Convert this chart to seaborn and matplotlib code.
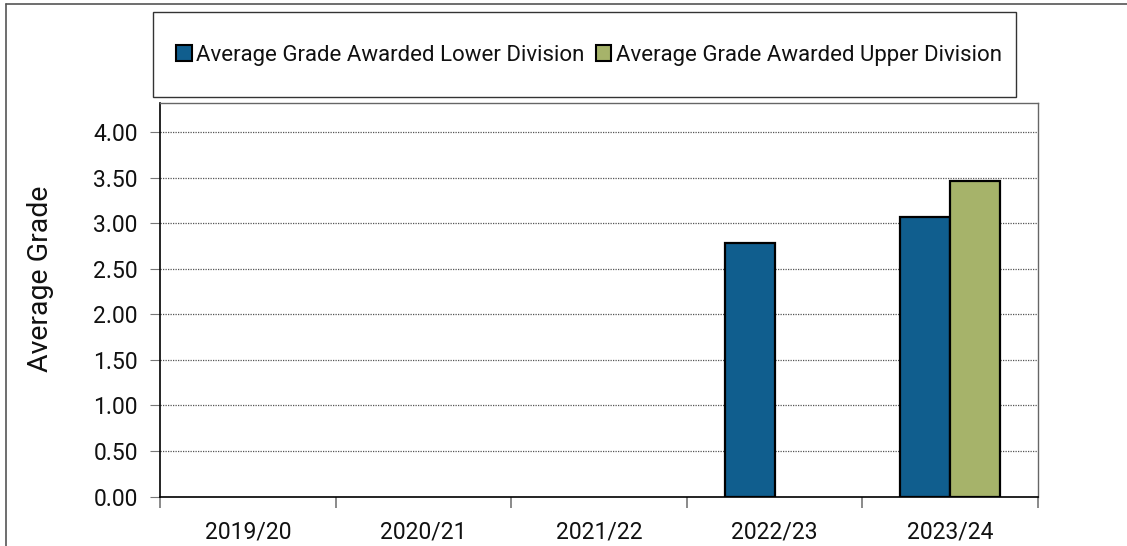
import numpy as np
import pandas as pd
import matplotlib
matplotlib.use("Agg")
import matplotlib.pyplot as plt
from matplotlib.patches import Rectangle, Patch
from matplotlib.lines import Line2D
import seaborn as sns

years = ["2019/20", "2020/21", "2021/22", "2022/23", "2023/24"]
lower_division = [np.nan, np.nan, np.nan, 2.78, 3.07]
upper_division = [np.nan, np.nan, np.nan, np.nan, 3.46]
series_names = ["Average Grade Awarded Lower Division", "Average Grade Awarded Upper Division"]
colors = ["#105E8E", "#A6B36A"]
y_ticks = [0.0, 0.5, 1.0, 1.5, 2.0, 2.5, 3.0, 3.5, 4.0]

sns.set_theme(style="white")
plt.rcParams['font.family'] = ['Roboto', 'DejaVu Sans']

df = pd.DataFrame({
    "year": years * 2,
    "series": [series_names[0]] * len(years) + [series_names[1]] * len(years),
    "value": lower_division + upper_division,
})

fig = plt.figure(figsize=(11.27, 5.46), dpi=100)
fig.patch.set_facecolor("white")
ax = fig.add_axes([160 / 1127, 1 - 496.5 / 546, (1038 - 160) / 1127, (496.5 - 103) / 546])

sns.barplot(data=df, x="year", y="value", hue="series", order=years,
            hue_order=series_names, palette=colors, saturation=1, width=0.57, gap=0,
            edgecolor="black", linewidth=1.6, ax=ax, legend=False, zorder=3)

ax.set_xlim(-0.5, 4.5)
ax.set_ylim(0, 4.32)
ax.set_yticks(y_ticks)
ax.set_yticklabels([f"{v:.2f}" for v in y_ticks])
ax.yaxis.grid(True, linestyle=(0, (1, 1)), color="#555555", linewidth=0.9, zorder=0)
ax.set_axisbelow(True)
ax.tick_params(axis="y", which="major", left=True, length=7, width=0.8,
               color="#777777", pad=9, labelsize=16.5, labelcolor="#111111")
ax.set_xticks(range(len(years)))
ax.set_xticklabels(years)
ax.set_xticks(np.arange(-0.5, len(years), 1.0), minor=True)
ax.tick_params(axis="x", which="major", bottom=False, length=0, pad=17,
               labelsize=16.5, labelcolor="#111111")
ax.tick_params(axis="x", which="minor", bottom=True, length=8, width=1.2,
               color="#777777")
ax.set_xlabel("")
ax.set_ylabel("Average Grade", fontsize=20.5, color="#111111")
ax.yaxis.set_label_coords(-0.121, 0.554)

for side in ["left", "bottom"]:
    ax.spines[side].set_color("black")
    ax.spines[side].set_linewidth(1.2)
for side in ["top", "right"]:
    ax.spines[side].set_color("#666666")
    ax.spines[side].set_linewidth(1.0)
    ax.spines[side].set_visible(True)

# figure border (left and top)
fig.add_artist(Line2D([6 / 1127, 6 / 1127], [0, 1 - 4 / 546], transform=fig.transFigure,
                      color="#555555", linewidth=1.2))
fig.add_artist(Line2D([6 / 1127, 1], [1 - 4 / 546, 1 - 4 / 546], transform=fig.transFigure,
                      color="#555555", linewidth=1.2))

# legend box
fig.add_artist(Rectangle((153 / 1127, 1 - 97 / 546), (1016 - 153) / 1127, 85 / 546,
                         transform=fig.transFigure, facecolor="white",
                         edgecolor="#333333", linewidth=1.0))
handles = [Patch(facecolor=c, edgecolor="black", linewidth=1.5) for c in colors]
fig.legend(handles, series_names, loc="center", bbox_to_anchor=(589 / 1127, 1 - 55.5 / 546),
           ncol=2, frameon=False, fontsize=16, handlelength=0.7, handleheight=0.7,
           handletextpad=0.2, columnspacing=0.5, labelcolor="#111111")

fig.savefig("out.png", dpi=100, facecolor="white")
